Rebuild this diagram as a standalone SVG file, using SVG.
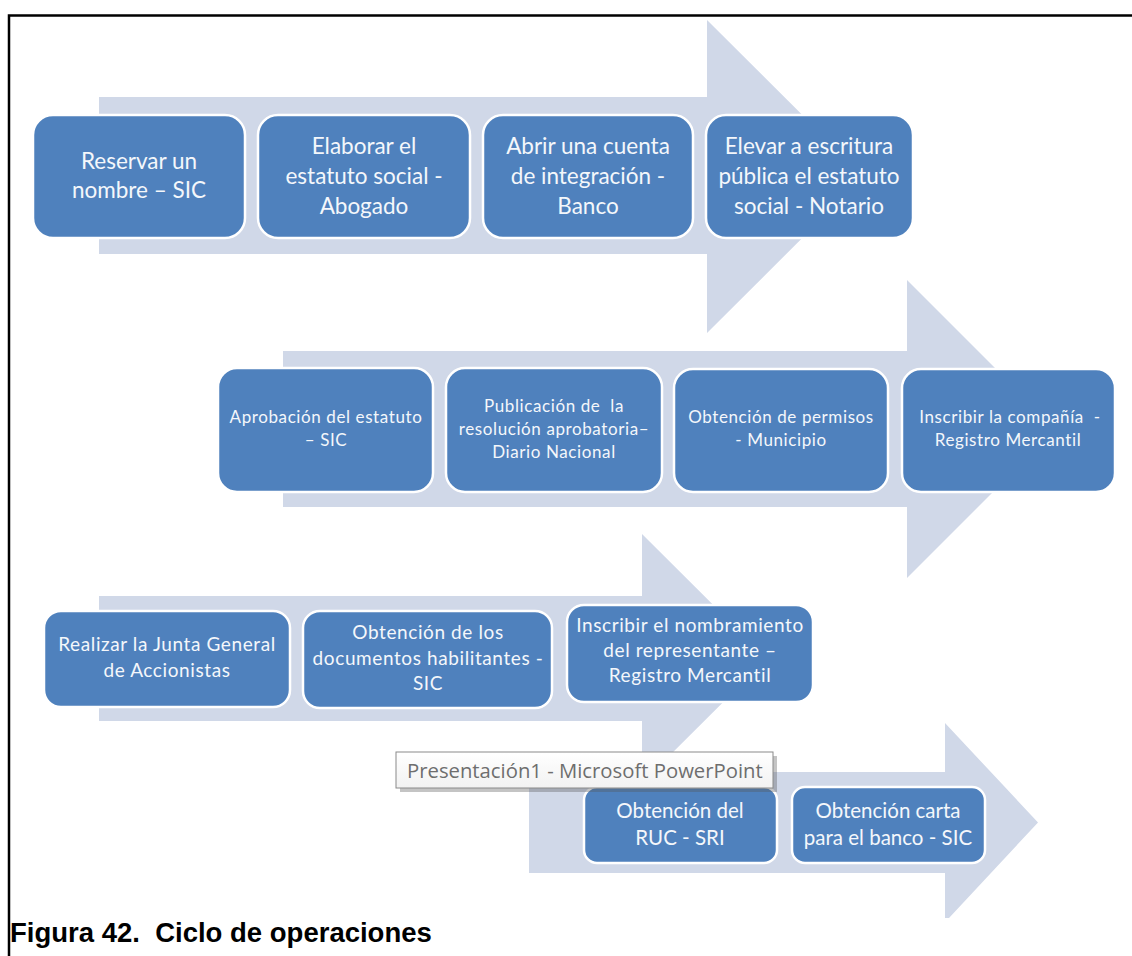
<svg xmlns="http://www.w3.org/2000/svg" width="1132" height="956" viewBox="0 0 1132 956">
  <style>
    .arrow { fill: #d0d8e8; }
    .box { fill: #4f81bd; stroke: #ffffff; stroke-width: 2.5; }
    .t { font-family: Lato, "Open Sans", "Liberation Sans", sans-serif; fill: #f4f7fb; text-anchor: middle; }
    .r1 { font-size: 22.5px; }
    .r2 { font-size: 17px; letter-spacing: 0.6px; }
    .r3 { font-size: 19px; letter-spacing: 0.6px; }
    .r4 { font-size: 20.5px; }
    .frame { stroke: #000000; stroke-width: 2.5; fill: none; }
    .caption { font-family: "Liberation Sans", Arial, sans-serif; font-weight: bold; font-size: 27.5px; fill: #000000; }
    .tip-text { font-family: "Open Sans", "Noto Sans", "Liberation Sans", sans-serif; font-size: 20.3px; fill: #6e6e6e; }
  </style>
  <defs>
    <linearGradient id="tipShade" x1="0" y1="0" x2="0" y2="1">
      <stop offset="0" stop-color="#ffffff"/>
      <stop offset="1" stop-color="#f2f2f2"/>
    </linearGradient>
  </defs>

  <rect width="1132" height="956" fill="#ffffff"/>

  <!-- frame: top and left rules -->
  <path class="frame" d="M9,956 V15.5 H1132"/>

  <!-- block arrows (connectors) -->
  <g id="connectors">
    <polygon class="arrow" points="99,97 707,97 707,20 864,176.5 707,333 707,254 99,254"/>
    <polygon class="arrow" points="283,351 907,351 907,280 1056,429 907,578 907,507 283,507"/>
    <polygon class="arrow" points="99,596 642,596 642,534 767,658.5 642,783 642,721 99,721"/>
    <polygon class="arrow" points="529,772 945,772 945,723 1038,822.5 949,918 945,918 945,873 529,873"/>
  </g>

  <!-- row 1 -->
  <g id="n1">
    <rect class="box" x="33" y="115" width="212" height="123" rx="20"/>
    <text class="t r1"><tspan x="139" y="169">Reservar un</tspan><tspan x="139" y="198">nombre – SIC</tspan></text>
  </g>
  <g id="n2">
    <rect class="box" x="258" y="115" width="212" height="123" rx="20"/>
    <text class="t r1"><tspan x="364" y="154">Elaborar el</tspan><tspan x="364" y="184">estatuto social -</tspan><tspan x="364" y="214">Abogado</tspan></text>
  </g>
  <g id="n3">
    <rect class="box" x="483" y="115" width="210" height="123" rx="20"/>
    <text class="t r1"><tspan x="588" y="154">Abrir una cuenta</tspan><tspan x="588" y="184">de integración -</tspan><tspan x="588" y="214">Banco</tspan></text>
  </g>
  <g id="n4">
    <rect class="box" x="706" y="115" width="207" height="123" rx="20"/>
    <text class="t r1"><tspan x="809" y="154">Elevar a escritura</tspan><tspan x="809" y="184">pública el estatuto</tspan><tspan x="809" y="214">social - Notario</tspan></text>
  </g>

  <!-- row 2 -->
  <g id="n5">
    <rect class="box" x="218" y="368" width="215" height="124" rx="19"/>
    <text class="t r2"><tspan x="326" y="423">Aprobación del estatuto</tspan><tspan x="326" y="446">– SIC</tspan></text>
  </g>
  <g id="n6">
    <rect class="box" x="446" y="368" width="216" height="124" rx="19"/>
    <text class="t r2" xml:space="preserve"><tspan x="554" y="412">Publicación de  la</tspan><tspan x="554" y="435">resolución aprobatoria–</tspan><tspan x="554" y="458">Diario Nacional</tspan></text>
  </g>
  <g id="n7">
    <rect class="box" x="674" y="369" width="214" height="123" rx="19"/>
    <text class="t r2"><tspan x="781" y="423">Obtención de permisos</tspan><tspan x="781" y="446">- Municipio</tspan></text>
  </g>
  <g id="n8">
    <rect class="box" x="902" y="369" width="213" height="123" rx="19"/>
    <text class="t r2" xml:space="preserve"><tspan x="1010" y="423">Inscribir la compañía  -</tspan><tspan x="1008" y="446">Registro Mercantil</tspan></text>
  </g>

  <!-- row 3 -->
  <g id="n9">
    <rect class="box" x="44" y="611" width="246" height="96" rx="17"/>
    <text class="t r3"><tspan x="167" y="651">Realizar la Junta General</tspan><tspan x="167" y="677">de Accionistas</tspan></text>
  </g>
  <g id="n10">
    <rect class="box" x="303" y="611" width="249" height="97" rx="17"/>
    <text class="t r3"><tspan x="428" y="639">Obtención de los</tspan><tspan x="428" y="665">documentos habilitantes -</tspan><tspan x="428" y="690">SIC</tspan></text>
  </g>
  <g id="n11">
    <rect class="box" x="567" y="605" width="246" height="97" rx="17"/>
    <text class="t r3"><tspan x="690" y="632">Inscribir el nombramiento</tspan><tspan x="690" y="657">del representante –</tspan><tspan x="690" y="682">Registro Mercantil</tspan></text>
  </g>

  <!-- row 4 -->
  <g id="n12">
    <rect class="box" x="584" y="787" width="193" height="76" rx="13"/>
    <text class="t r4"><tspan x="680" y="818">Obtención del</tspan><tspan x="680" y="845">RUC - SRI</tspan></text>
  </g>
  <g id="n13">
    <rect class="box" x="792" y="787" width="193" height="76" rx="13"/>
    <text class="t r4"><tspan x="888" y="818">Obtención carta</tspan><tspan x="888" y="845">para el banco - SIC</tspan></text>
  </g>

  <!-- hover tooltip -->
  <g id="tooltip">
    <rect x="400" y="756" width="377" height="36" fill="#555555" opacity="0.35"/>
    <rect x="396" y="752" width="377" height="36" fill="url(#tipShade)" stroke="#8a8a8a" stroke-width="1"/>
    <text class="tip-text" x="407" y="778">Presentación1 - Microsoft PowerPoint</text>
  </g>

  <!-- caption -->
  <text class="caption" x="10" y="942" xml:space="preserve">Figura 42.  Ciclo de operaciones</text>
</svg>
